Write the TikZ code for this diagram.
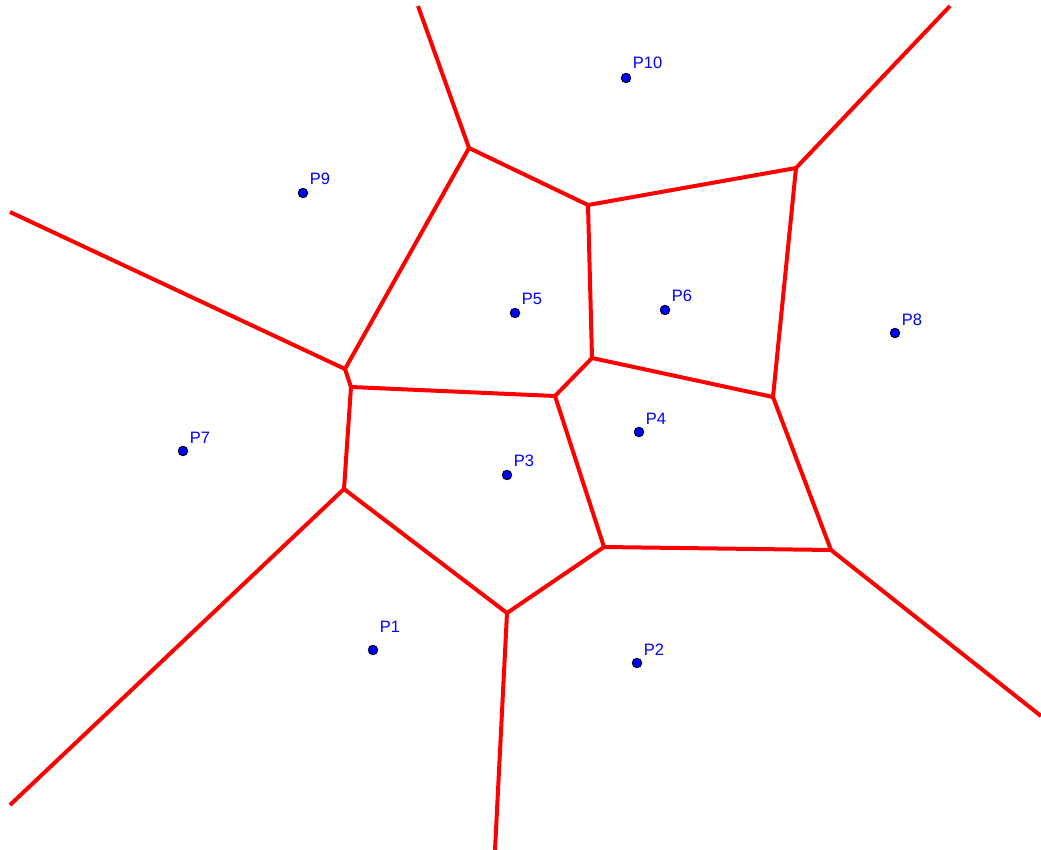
\documentclass[tikz,border=0pt]{standalone}
\usepackage{fontspec}
\setmainfont{Liberation Sans}
\usepackage{xcolor}
\usepackage{tikz}
\usetikzlibrary{positioning}
\definecolor{edgered}{HTML}{FF0000}
\definecolor{siteblue}{HTML}{0000FF}

\begin{document}
\begin{tikzpicture}[x=1pt,y=-1pt,
    edge/.style={edgered, line width=4pt, line join=round},
    site/.style={circle, draw=black, fill=siteblue, line width=0.9pt, inner sep=0pt, minimum size=9.5pt},
    sitelabel/.style={siteblue, font=\fontsize{16.5}{19}\selectfont, inner sep=1pt, anchor=south west}]
    \useasboundingbox (0,0) rectangle (1041,850);

    % Voronoi vertices
    \coordinate (VA) at (469,148);
    \coordinate (VB) at (588,205);
    \coordinate (VC) at (796,168);
    \coordinate (VD) at (345,369);
    \coordinate (VE) at (351,387);
    \coordinate (VF) at (592,358);
    \coordinate (VG) at (555,396);
    \coordinate (VH) at (773,397);
    \coordinate (VI) at (344,489);
    \coordinate (VJ) at (604,547);
    \coordinate (VK) at (831,550);
    \coordinate (VL) at (507,613);

    % unbounded ends
    \coordinate (RA) at (418,6);
    \coordinate (RC) at (950,6);
    \coordinate (RD) at (10,212);
    \coordinate (RI) at (10,805);
    \coordinate (RK) at (1041,716);
    \coordinate (RL) at (495,850);

    \draw[edge] (RA) -- (VA);
    \draw[edge] (RC) -- (VC);
    \draw[edge] (RD) -- (VD);
    \draw[edge] (RI) -- (VI);
    \draw[edge] (RK) -- (VK);
    \draw[edge] (RL) -- (VL);

    \draw[edge] (VA) -- (VB);
    \draw[edge] (VA) -- (VD);
    \draw[edge] (VB) -- (VC);
    \draw[edge] (VB) -- (VF);
    \draw[edge] (VC) -- (VH);
    \draw[edge] (VD) -- (VE);
    \draw[edge] (VE) -- (VG);
    \draw[edge] (VE) -- (VI);
    \draw[edge] (VF) -- (VG);
    \draw[edge] (VF) -- (VH);
    \draw[edge] (VG) -- (VJ);
    \draw[edge] (VH) -- (VK);
    \draw[edge] (VJ) -- (VK);
    \draw[edge] (VJ) -- (VL);
    \draw[edge] (VI) -- (VL);

    % sites
    \foreach \name/\pos/\up in {P1/{(373,650)}/13, P2/{(637,663)}/3, P3/{(507,475)}/3,
        P4/{(639,432)}/3, P5/{(515,313)}/3, P6/{(665,310)}/3, P7/{(183,451)}/3,
        P8/{(895,333)}/2, P9/{(303,193)}/3, P10/{(626,78)}/4} {
        \node[site] (\name) at \pos {};
        \node[sitelabel] (\name-lbl) at ([xshift=2pt,yshift=\up pt]\name.north east) {\name};
    }
\end{tikzpicture}
\end{document}
